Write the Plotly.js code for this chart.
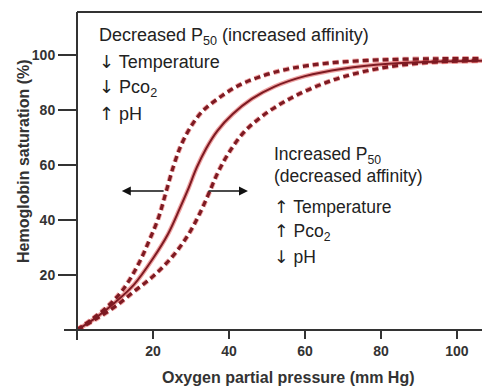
<!DOCTYPE html>
<html>
<head>
<meta charset="utf-8">
<script src="https://cdn.plot.ly/plotly-3.0.1.min.js"></script>
<style>html,body{margin:0;padding:0;background:#fff;}#chart{width:482px;height:386px;}</style>
</head>
<body>
<div id="chart"></div>
<script>
// Left-shifted curve: decreased P50 (increased affinity)
const leftX = [0, 4, 8, 12, 16, 19, 21.5, 23.5, 25.5, 27.5, 30, 33, 37, 42, 48, 56, 66, 80, 95, 106.6];
const leftY = [0, 4, 8.5, 14.5, 23.5, 32.5, 41, 50.5, 60, 67.5, 74, 79.5, 84, 88.5, 92, 95, 97, 98.2, 98.6, 98.7];
// Normal curve
const normX = [0, 5, 10, 15, 20, 24, 27, 29.2, 31.5, 34, 37, 41, 46, 52, 60, 70, 82, 95, 106.6];
const normY = [0, 4.5, 10, 16.5, 26, 35, 44, 51, 59, 66, 72.5, 78.5, 84, 88.5, 92.3, 95, 96.8, 97.6, 97.9];
// Right-shifted curve: increased P50 (decreased affinity)
const rightX = [0, 5, 10, 15, 20, 25, 29, 32, 34.5, 37, 40, 44, 49, 55, 62, 70, 80, 92, 106.6];
const rightY = [0, 4, 8.5, 14, 19.5, 26.5, 34, 41.5, 49, 57, 64.5, 72, 78, 83.3, 88, 92, 95.2, 97.2, 97.9];

const xTicks = [20, 40, 60, 80, 100];
const yTicks = [20, 40, 60, 80, 100];

const xTitle = 'Oxygen partial pressure (mm Hg)';
const yTitle = 'Hemoglobin saturation (%)';
const UP = '<span style="font-family:DejaVu Sans">\u2191</span>';
const DOWN = '<span style="font-family:DejaVu Sans">\u2193</span>';
const leftLabels = ['Decreased P<sub>50</sub> (increased affinity)', DOWN + ' Temperature', DOWN + ' Pco<sub>2</sub>', UP + ' pH'];
const rightLabels = ['Increased P<sub>50</sub>', '(decreased affinity)', UP + ' Temperature', UP + ' Pco<sub>2</sub>', DOWN + ' pH'];

const FONT = 'Liberation Sans, Arial, sans-serif';
const dark = '#7d1a22';
const halo = 'rgba(220,50,50,0.45)';

function curve(x, y, dash, w, col) {
  return {x: x, y: y, mode: 'lines', type: 'scatter', hoverinfo: 'skip',
    line: {color: col, width: w, dash: dash, shape: 'spline', smoothing: 1}};
}

const traces = [
  curve(leftX, leftY, '6px,4px', 5, halo),
  curve(rightX, rightY, '6px,4px', 5, halo),
  curve(normX, normY, 'solid', 4.5, halo),
  curve(leftX, leftY, '6px,4px', 3.2, dark),
  curve(rightX, rightY, '6px,4px', 3.2, dark),
  curve(normX, normY, 'solid', 2, dark)
];

const annotations = [];
const leftYpx = [37, 62, 88, 113];
leftLabels.forEach((t, i) => annotations.push({
  text: t, xref: 'paper', yref: 'paper', x: (97 - 77) / 405, y: (330 - leftYpx[i]) / 318,
  xanchor: 'left', yanchor: 'middle', showarrow: false,
  font: {family: FONT, size: 18, color: '#222'}
}));
const rightYpx = [155, 176, 207, 232, 257];
rightLabels.forEach((t, i) => annotations.push({
  text: t, xref: 'paper', yref: 'paper', x: (272 - 77) / 405, y: (330 - rightYpx[i]) / 318,
  xanchor: 'left', yanchor: 'middle', showarrow: false,
  font: {family: FONT, size: 17.5, color: '#222'}
}));
// arrows indicating shifts
annotations.push({x: 11.8, y: 50.5, ax: 23.2, ay: 50.5, axref: 'x', ayref: 'y', xref: 'x', yref: 'y',
  text: '', showarrow: true, arrowhead: 2, arrowsize: 1.2, arrowwidth: 1.5, arrowcolor: '#111'});
annotations.push({x: 45, y: 50.5, ax: 34.2, ay: 50.5, axref: 'x', ayref: 'y', xref: 'x', yref: 'y',
  text: '', showarrow: true, arrowhead: 2, arrowsize: 1.2, arrowwidth: 1.5, arrowcolor: '#111'});
// axis titles
annotations.push({text: xTitle, xref: 'paper', yref: 'paper', x: (288 - 77) / 405, y: (330 - 377) / 318,
  xanchor: 'center', yanchor: 'middle', showarrow: false,
  font: {family: FONT, size: 16, color: '#333', weight: 'bold'}});
annotations.push({text: yTitle, xref: 'paper', yref: 'paper', x: (23 - 77) / 405, y: (330 - 161) / 318,
  xanchor: 'center', yanchor: 'middle', showarrow: false, textangle: -90,
  font: {family: FONT, size: 16, color: '#333', weight: 'bold'}});

const lineStyle = {color: '#333', width: 2};
const shapes = [
  {type: 'line', xref: 'paper', yref: 'paper', x0: 0, x1: 0, y0: -10 / 318, y1: 1, line: lineStyle},
  {type: 'line', xref: 'paper', yref: 'paper', x0: -13 / 405, x1: 1, y0: 0, y1: 0, line: lineStyle},
  {type: 'line', xref: 'paper', yref: 'paper', x0: 0, x1: 1, y0: 1, y1: 1, line: lineStyle}
];

const layout = {
  width: 482, height: 386,
  margin: {l: 77, r: 0, t: 12, b: 56, pad: 0},
  paper_bgcolor: '#fff', plot_bgcolor: '#fff',
  showlegend: false,
  xaxis: {range: [0, 106.6], tickvals: xTicks, ticktext: xTicks.map(String), ticks: 'outside', ticklen: 8,
    tickwidth: 2, tickcolor: '#333', showgrid: false, zeroline: false, showline: false,
    tickfont: {family: FONT, size: 14, color: '#333', weight: 'bold'}, fixedrange: true},
  yaxis: {range: [0, 115.6], tickvals: yTicks, ticktext: yTicks.map(String), ticks: 'outside', ticklen: 18,
    tickwidth: 2, tickcolor: '#333', showgrid: false, zeroline: false, showline: false,
    tickfont: {family: FONT, size: 14, color: '#333', weight: 'bold'}, fixedrange: true},
  annotations: annotations,
  shapes: shapes
};

Plotly.newPlot('chart', traces, layout, {staticPlot: true, displayModeBar: false});
</script>
</body>
</html>
